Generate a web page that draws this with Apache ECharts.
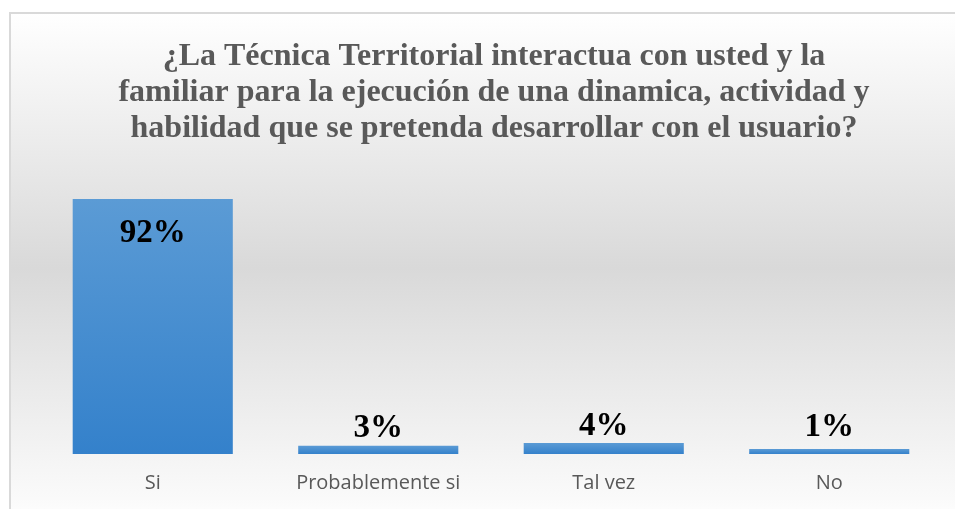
<!DOCTYPE html>
<html>
<head>
<meta charset="utf-8">
<script src="https://cdn.jsdelivr.net/npm/echarts@6/dist/echarts.min.js"></script>
<style>
  html, body { margin: 0; padding: 0; background: #fff; }
  #main { width: 955px; height: 509px; }
</style>
</head>
<body>
<div id="main"></div>
<script>
const titleText = "¿La Técnica Territorial interactua con usted y la\nfamiliar para la ejecución de una dinamica, actividad y\nhabilidad que se pretenda desarrollar con el usuario?";
const categories = ["Si", "Probablemente si", "Tal vez", "No"];
const values = [92, 3, 4, 1];
// label offsets per bar (the first one sits inside the bar)
const labelDistances = [18, 1, 0, 5];

const chart = echarts.init(document.getElementById("main"));

const option = {
  backgroundColor: "#ffffff",
  graphic: [
    {
      type: "rect",
      left: 9,
      top: 12,
      z: -10,
      shape: { width: 960, height: 510 },
      style: {
        fill: new echarts.graphic.LinearGradient(0, 0, 0, 1, [
          { offset: 0, color: "#ffffff" },
          { offset: 0.5, color: "#d9d9d9" },
          { offset: 0.95, color: "#fafafa" },
          { offset: 1, color: "#ffffff" },
        ]),
        stroke: "#d9d9d9",
        lineWidth: 2,
      },
    },
  ],
  title: {
    text: titleText,
    left: 489,
    textAlign: "center",
    top: 34,
    textStyle: {
      fontFamily: "Liberation Serif",
      fontWeight: "bold",
      fontSize: 32,
      lineHeight: 36,
      color: "#595959",
    },
  },
  grid: {
    left: 40,
    right: 13,
    top: 199,
    bottom: 55,
  },
  xAxis: {
    type: "category",
    data: categories,
    axisLine: { show: false },
    axisTick: { show: false },
    axisLabel: {
      color: "#595959",
      fontFamily: "Open Sans",
      fontSize: 20,
      margin: 19,
    },
  },
  yAxis: {
    type: "value",
    min: 0,
    max: 92,
    show: false,
    splitLine: { show: false },
  },
  series: [
    {
      type: "bar",
      data: values.map((v, i) => ({
        value: v,
        label: i === 0
          ? { position: "insideTop", distance: labelDistances[i] }
          : { distance: labelDistances[i] },
      })),
      barWidth: "71%",
      barMinHeight: 5,
      itemStyle: {
        color: new echarts.graphic.LinearGradient(0, 0, 0, 1, [
          { offset: 0, color: "#5b9bd5" },
          { offset: 1, color: "#3481cb" },
        ]),
      },
      label: {
        show: true,
        position: "top",
        formatter: "{c}%",
        fontFamily: "Liberation Serif",
        fontWeight: "bold",
        fontSize: 33,
        color: "#000000",
      },
    },
  ],
};

chart.setOption(option);
</script>
</body>
</html>
